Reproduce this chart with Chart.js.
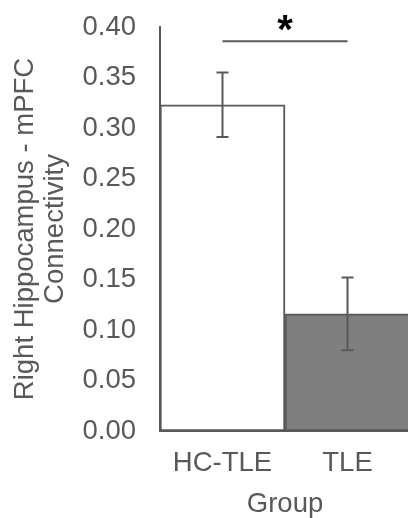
<!DOCTYPE html>
<html>
<head>
<meta charset="utf-8">
<script src="https://cdn.jsdelivr.net/npm/chart.js@4"></script>
<style>
  html, body { margin: 0; padding: 0; overflow: hidden; background: #fff; }
  #wrap { width: 410px; height: 518px; }
</style>
</head>
<body>
<div id="wrap"><canvas id="chart"></canvas></div>
<script>
const groups = ['HC-TLE', 'TLE'];
const means = [0.323, 0.116];
const errors = [0.032, 0.036];
const fills = ['#ffffff', '#7f7f7f'];
const sigLevel = 0.386;
const sigLabel = '*';
const yMin = 0, yMax = 0.4, yStep = 0.05;

const grey = '#595959';
const fontFamily = '"Liberation Sans", Arial, sans-serif';
const fontSize = 27.5;

const errorBars = {
    id: 'errorBars',
    afterDatasetsDraw(chart) {
        const ctx = chart.ctx;
        const x = chart.scales.x, y = chart.scales.y;
        ctx.save();
        ctx.strokeStyle = grey;
        ctx.lineWidth = 2;
        for (let i = 0; i < means.length; i++) {
            const px = x.getPixelForValue(i);
            const top = y.getPixelForValue(means[i] + errors[i]);
            const bot = y.getPixelForValue(means[i] - errors[i]);
            ctx.beginPath();
            ctx.moveTo(px, top); ctx.lineTo(px, bot);
            ctx.moveTo(px - 6, top); ctx.lineTo(px + 6, top);
            ctx.moveTo(px - 6, bot); ctx.lineTo(px + 6, bot);
            ctx.stroke();
        }
        // significance bracket
        const x0 = x.getPixelForValue(0), x1 = x.getPixelForValue(1);
        const sy = y.getPixelForValue(sigLevel);
        ctx.beginPath();
        ctx.moveTo(x0, sy); ctx.lineTo(x1, sy);
        ctx.stroke();
        ctx.fillStyle = '#000';
        ctx.font = 'bold 40px ' + fontFamily;
        ctx.textAlign = 'center';
        ctx.textBaseline = 'alphabetic';
        ctx.fillText(sigLabel, (x0 + x1) / 2, sy + 2);
        ctx.restore();
    }
};

new Chart(document.getElementById('chart'), {
    type: 'bar',
    data: {
        labels: groups,
        datasets: [{
            data: means,
            backgroundColor: fills,
            borderColor: grey,
            borderWidth: 2,
            borderSkipped: false,
            barPercentage: 1,
            categoryPercentage: 1
        }]
    },
    options: {
        responsive: true,
        maintainAspectRatio: false,
        animation: false,
        layout: {padding: 0},
        plugins: {legend: {display: false}, tooltip: {enabled: false}},
        scales: {
            x: {
                grid: {display: false, drawTicks: false},
                border: {display: true, color: grey, width: 2},
                ticks: {color: grey, padding: 16, font: {family: fontFamily, size: fontSize}},
                title: {
                    display: true, text: 'Group', color: grey,
                    padding: {top: 0, bottom: 0},
                    font: {family: fontFamily, size: fontSize, lineHeight: 1}
                },
                afterFit(scale) { scale.height = 87; }
            },
            y: {
                min: yMin, max: yMax,
                grid: {display: false, drawTicks: false},
                border: {display: true, color: grey, width: 2},
                ticks: {
                    stepSize: yStep, color: grey, padding: 24,
                    font: {family: fontFamily, size: fontSize},
                    callback: v => v.toFixed(2)
                },
                title: {
                    display: true,
                    text: ['Right Hippocampus - mPFC', 'Connectivity'],
                    color: grey,
                    padding: {top: 10, bottom: 0},
                    font: {family: fontFamily, size: fontSize, lineHeight: 1.11}
                },
                afterFit(scale) {
                    scale.width = 160;
                    scale.paddingTop = 27;
                    scale.paddingBottom = 0;
                }
            }
        }
    },
    plugins: [errorBars]
});
</script>
</body>
</html>
